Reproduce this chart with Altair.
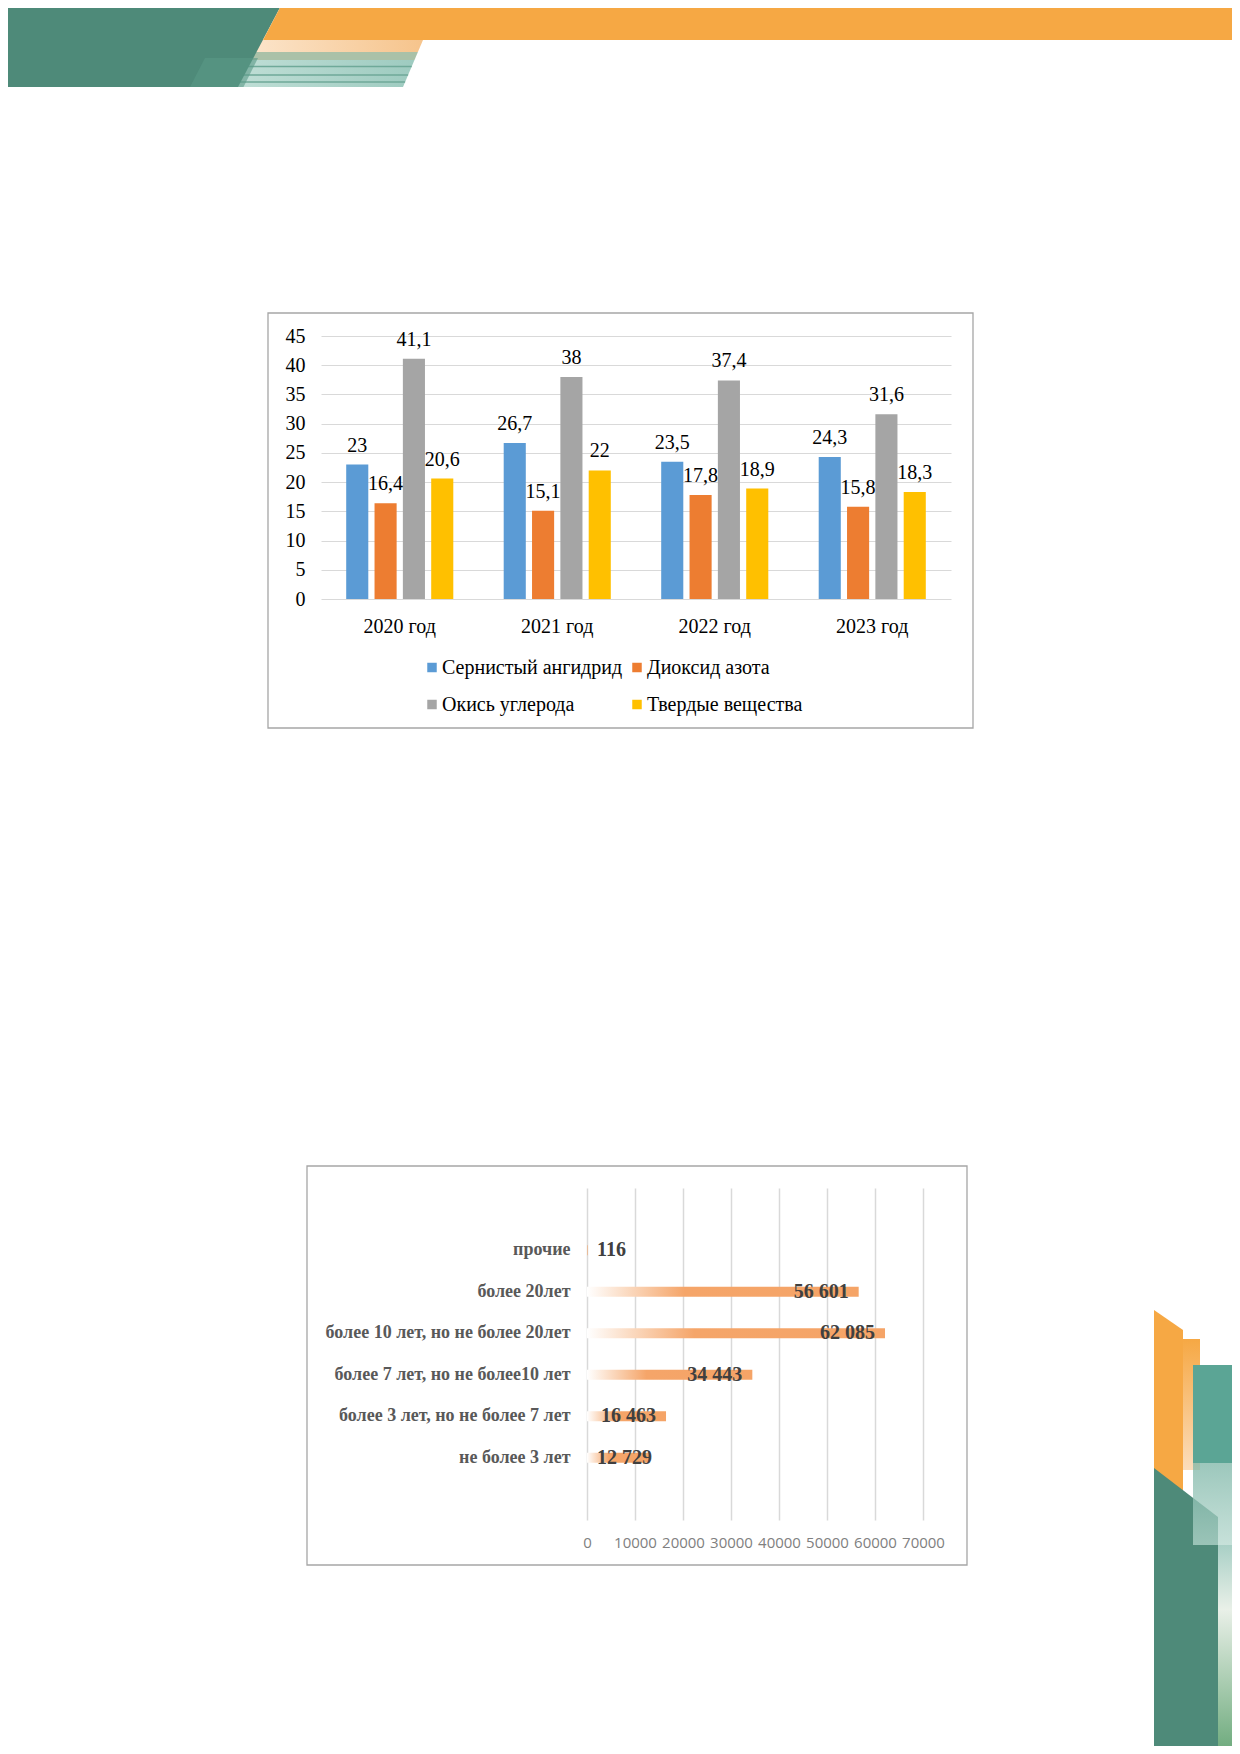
import base64
import altair as alt
import pandas as pd

# ---------------- data: chart 1 (emissions) ----------------
years = ["2020 год", "2021 год", "2022 год", "2023 год"]
pollutants = ["Сернистый ангидрид", "Диоксид азота", "Окись углерода", "Твердые вещества"]
sulfur_dioxide = [23, 26.7, 23.5, 24.3]
nitrogen_dioxide = [16.4, 15.1, 17.8, 15.8]
carbon_monoxide = [41.1, 38, 37.4, 31.6]
solid_matter = [20.6, 22, 18.9, 18.3]
emission_ticks = [0, 5, 10, 15, 20, 25, 30, 35, 40, 45]
pollutant_colors = ["#5B9BD5", "#ED7D31", "#A5A5A5", "#FFC000"]

# ---------------- data: chart 2 (vehicle age) ----------------
age_groups = [
    "прочие",
    "более 20лет",
    "более 10 лет, но не более 20лет",
    "более 7 лет, но не более10 лет",
    "более 3 лет, но не более 7 лет",
    "не более 3 лет",
]
vehicle_counts = [116, 56601, 62085, 34443, 16463, 12729]
count_ticks = [0, 10000, 20000, 30000, 40000, 50000, 60000, 70000]

series = [sulfur_dioxide, nitrogen_dioxide, carbon_monoxide, solid_matter]
df1 = pd.DataFrame(
    [{"year": y, "pollutant": p, "value": s[i]}
     for p, s in zip(pollutants, series) for i, y in enumerate(years)]
)
df2 = pd.DataFrame({"age": age_groups, "count": vehicle_counts})

# ---------------- layout ----------------
W, H = 1224, 1738
M = 8


def px(v):
    return v - M


SERIF = "Liberation Serif"
LABEL_FIT = 15000  # bars shorter than this get their label at the bar base

# ---------------- decoration (page ornaments) ----------------
header_svg = """<svg xmlns="http://www.w3.org/2000/svg" width="1224" height="92" viewBox="8 8 1224 92" preserveAspectRatio="none">
<defs>
<linearGradient id="peach" x1="0" y1="0" x2="1" y2="0"><stop offset="0" stop-color="#FDEEDD"/><stop offset="1" stop-color="#F6C48C"/></linearGradient>
<linearGradient id="teal" x1="0" y1="0" x2="1" y2="0"><stop offset="0" stop-color="#C6E2DA"/><stop offset="1" stop-color="#9ECBC0"/></linearGradient>
</defs>
<polygon points="200,40 423,40 417.9,52 200,52" fill="url(#peach)"/>
<polygon points="200,52 417.9,52 414.5,60 200,60" fill="#AAC1A8"/>
<polygon points="200,60 414.5,60 403,87 200,87" fill="url(#teal)"/>
<line x1="200" y1="66.5" x2="411.7" y2="66.5" stroke="#6FA999" stroke-width="1.6"/>
<line x1="200" y1="75" x2="408.1" y2="75" stroke="#6FA999" stroke-width="1.6"/>
<line x1="200" y1="82" x2="405.1" y2="82" stroke="#6FA999" stroke-width="1.6"/>
<polygon points="0,0 284,0 238,87 0,87" fill="#4E8A79"/>
<polygon points="205,58 258,58 243.5,87 190,87" fill="#5A9A87" fill-opacity="0.6"/>
<polygon points="284,0 1240,0 1240,40 263,40" fill="#F6A844"/>
</svg>"""

side_svg = """<svg xmlns="http://www.w3.org/2000/svg" width="92" height="456" viewBox="1140 1290 92 456" preserveAspectRatio="none">
<defs>
<linearGradient id="ob" x1="0" y1="0" x2="0" y2="1"><stop offset="0" stop-color="#F6A844"/><stop offset="1" stop-color="#FBDDBC"/></linearGradient>
<linearGradient id="tl" x1="0" y1="0" x2="0" y2="1"><stop offset="0" stop-color="#7CB5A6"/><stop offset="1" stop-color="#B4D7CD"/></linearGradient>
<linearGradient id="rs" x1="0" y1="0" x2="0" y2="1"><stop offset="0" stop-color="#A9D0C6"/><stop offset="0.3" stop-color="#E9F0E8"/><stop offset="1" stop-color="#66A676"/></linearGradient>
</defs>
<polygon points="1154,1310 1183,1330 1183,1520 1154,1520" fill="#F6A844"/>
<rect x="1183" y="1339" width="17" height="131" fill="url(#ob)"/>
<polygon points="1154,1468 1218,1517 1218,1760 1154,1760" fill="#4E8A79"/>
<rect x="1193" y="1365" width="45" height="98" fill="#5BA595"/>
<rect x="1193" y="1463" width="45" height="82" fill="url(#tl)" fill-opacity="0.75"/>
<rect x="1218" y="1545" width="20" height="215" fill="url(#rs)"/>
</svg>"""


def svg_uri(svg):
    return "data:image/svg+xml;base64," + base64.b64encode(svg.encode("utf-8")).decode("ascii")


one = alt.Data(values=[{"k": 1}])

header = alt.Chart(one).mark_image(
    url=svg_uri(header_svg), width=1224, height=92, aspect=False, align="left", baseline="top"
).encode(x=alt.value(0), y=alt.value(0))

side = alt.Chart(one).mark_image(
    url=svg_uri(side_svg), width=92, height=456, aspect=False, align="left", baseline="top"
).encode(x=alt.value(px(1140)), y=alt.value(px(1290)))

frame1 = alt.Chart(one).mark_rect(fillOpacity=0, stroke="#a6a6a6", strokeWidth=1.3).encode(
    x=alt.value(px(268)), x2=alt.value(px(973)), y=alt.value(px(313)), y2=alt.value(px(728))
)
frame2 = alt.Chart(one).mark_rect(fillOpacity=0, stroke="#a6a6a6", strokeWidth=1.3).encode(
    x=alt.value(px(307)), x2=alt.value(px(967)), y=alt.value(px(1166)), y2=alt.value(px(1565))
)

# ---------------- chart 1 ----------------
x1_scale = alt.Scale(domain=years, range=[px(321), px(951)], paddingInner=0.32, paddingOuter=0.16)
y1_scale = alt.Scale(domain=[0, 45], range=[px(599), px(336)], nice=False, zero=True)
xo_scale = alt.Scale(domain=pollutants, paddingInner=0.22, paddingOuter=0)

x1_axis = alt.Axis(orient="bottom", offset=px(599) - H, title=None, domain=False, ticks=False,
                   tickSize=0, grid=False, labelAngle=0, labelPadding=33,
                   labelBaseline="alphabetic", labelFont=SERIF, labelFontSize=20,
                   labelColor="#000000", labelLimit=400, labelOverlap=False)
y1_axis = alt.Axis(orient="left", offset=-px(321), title=None, values=emission_ticks, domain=False,
                   ticks=False, tickSize=0, labelPadding=16, grid=True, gridColor="#d9d9d9",
                   gridWidth=1, labelFont=SERIF, labelFontSize=20, labelColor="#000000",
                   labelOverlap=False, labelFlush=False)

bars1 = alt.Chart().mark_bar().encode(
    x=alt.X("year:N", sort=years, title=None, scale=x1_scale, axis=x1_axis),
    xOffset=alt.XOffset("pollutant:N", sort=pollutants, scale=xo_scale),
    y=alt.Y("value:Q", title=None, scale=y1_scale, axis=y1_axis),
    color=alt.Color("pollutant:N", sort=pollutants,
                    scale=alt.Scale(domain=pollutants, range=pollutant_colors),
                    legend=alt.Legend(orient="none", legendX=px(422), legendY=px(657.5), columns=2,
                                      direction="horizontal",
                                      title=None, symbolType="square", symbolSize=90,
                                      symbolStrokeWidth=0, labelFont=SERIF, labelFontSize=20,
                                      labelColor="#000000", labelOffset=0, columnPadding=4,
                                      rowPadding=17, padding=0, labelLimit=400)),
)

text1 = alt.Chart().transform_calculate(
    label="replace(format(datum.value, ''), '.', ',')"
).mark_text(baseline="alphabetic", dy=-13, font=SERIF, fontSize=20, color="#000000").encode(
    x=alt.X("year:N", sort=years, title=None, scale=x1_scale, axis=x1_axis),
    xOffset=alt.XOffset("pollutant:N", sort=pollutants, scale=xo_scale),
    y=alt.Y("value:Q", title=None, scale=y1_scale, axis=y1_axis),
    text="label:N",
)

chart1 = alt.layer(bars1, text1, data=df1)

# ---------------- chart 2 ----------------
x2_scale = alt.Scale(domain=[0, 70000], range=[px(587), px(923)], nice=False, zero=True)
y2_scale = alt.Scale(domain=age_groups, range=[px(1188), px(1520)], paddingInner=0, paddingOuter=1)

x2_axis = alt.Axis(orient="top", offset=-px(1550), title=None, values=count_ticks, format="d",
                   domain=False, ticks=False, tickSize=0, labelPadding=8,
                   labelBaseline="middle", grid=True, gridColor="#d9d9d9", gridWidth=1.5,
                   labelFont="Open Sans", labelFontSize=15, labelColor="#808080",
                   labelOverlap=False, labelFlush=False)
y2_axis = alt.Axis(orient="left", offset=-px(587), title=None, domain=False, ticks=False,
                   tickSize=0, labelPadding=17, grid=False, labelFont=SERIF,
                   labelFontWeight="bold", labelFontSize=18, labelColor="#595959",
                   labelLimit=400, labelOverlap=False)

bar_gradient = alt.Gradient(
    gradient="linear", x1=0, x2=1, y1=0, y2=0,
    stops=[alt.GradientStop(offset=0, color="#FFFFFF"),
           alt.GradientStop(offset=0.14, color="#FBDCC4"),
           alt.GradientStop(offset=0.36, color="#F5A569"),
           alt.GradientStop(offset=1, color="#F5A467")],
)

bars2 = alt.Chart().mark_bar(color=bar_gradient, size=10).encode(
    x=alt.X("count:Q", title=None, scale=x2_scale, axis=x2_axis),
    y=alt.Y("age:N", sort=age_groups, title=None, scale=y2_scale, axis=y2_axis),
)

label_fmt = "replace(format(datum.count, ','), ',', ' ')"

labels_end = alt.Chart().transform_filter(f"datum.count >= {LABEL_FIT}").transform_calculate(
    label=label_fmt
).mark_text(align="right", dx=-10, baseline="middle", font=SERIF, fontWeight="bold",
            fontSize=20, color="#404040").encode(
    x=alt.X("count:Q", title=None, scale=x2_scale, axis=x2_axis),
    y=alt.Y("age:N", sort=age_groups, title=None, scale=y2_scale, axis=y2_axis),
    text="label:N",
)

labels_base = alt.Chart().transform_filter(f"datum.count < {LABEL_FIT}").transform_calculate(
    label=label_fmt, base="0"
).mark_text(align="left", dx=10, baseline="middle", font=SERIF, fontWeight="bold",
            fontSize=20, color="#404040").encode(
    x=alt.X("base:Q", title=None, scale=x2_scale, axis=x2_axis),
    y=alt.Y("age:N", sort=age_groups, title=None, scale=y2_scale, axis=y2_axis),
    text="label:N",
)

chart2 = alt.layer(bars2, labels_end, labels_base, data=df2)

# ---------------- page ----------------
chart = alt.layer(header, side, frame1, frame2, chart1, chart2).resolve_scale(
    x="independent", y="independent", color="independent"
).resolve_axis(x="independent", y="independent").properties(
    width=W, height=H, padding=0, autosize=alt.AutoSizeParams(type="none")
).configure(font=SERIF).configure_view(strokeWidth=0)

chart.save("out.html", embed_options={"renderer": "svg", "actions": False})
